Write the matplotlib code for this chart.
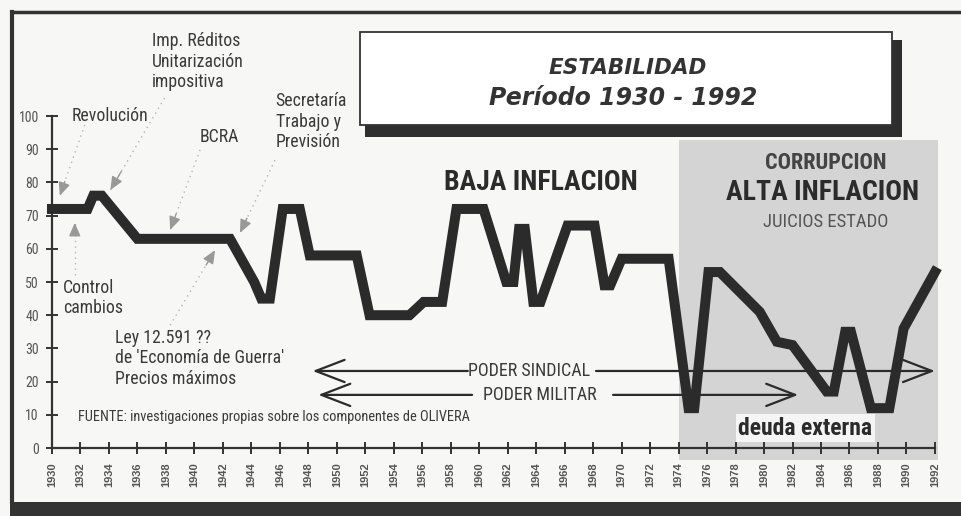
import matplotlib.pyplot as plt
from matplotlib import font_manager as fm
from matplotlib.patches import Rectangle
from matplotlib.lines import Line2D

# --- datos (estabilidad, 1930-1992) ---
years = [1930, 1932.5, 1932.9, 1933.5, 1936, 1942.5, 1944.2, 1944.7, 1945.3, 1946.2,
         1947.4, 1948.1, 1951.4, 1952.3, 1955.1, 1956.1, 1957.4, 1958.4, 1960.3, 1961.9,
         1962.4, 1962.8, 1963.2, 1963.8, 1964.3, 1966.2, 1968.1, 1968.8, 1969.2, 1970,
         1973.3, 1974.7, 1975.1, 1976.1, 1976.9, 1978.3, 1979.7, 1980.9, 1982, 1984.4,
         1984.9, 1985.7, 1986.1, 1987.5, 1988.8, 1989.8, 1992]
stability = [72, 72, 76, 76, 63, 63, 50, 45, 45, 72,
             72, 58, 58, 40, 40, 44, 44, 72, 72, 50,
             50, 66, 66, 44, 44, 67, 67, 49, 49, 57,
             57, 12, 12, 53, 53, 47, 41, 32, 31, 17,
             17, 35, 35, 12, 12, 36, 53]

x_ticks = list(range(1930, 1993, 2))
y_ticks = list(range(0, 101, 10))

# flechas de poder: (desde, hasta) en años, y nivel
union_span = [1948.3, 1992.0]
union_gap = [1959.2, 1968.2]
union_level = 23.2
military_span = [1948.7, 1982.4]
military_gap = [1959.5, 1969.4]
military_level = 16.0

# periodo sombreado
high_inflation = [1974, 1992.2]

# buscar una fuente angosta (tipo Helvetica Condensed)
fonts = fm.fontManager.ttflist
narrow = None
for name in ['Liberation Sans Narrow', 'Roboto Condensed', 'Open Sans Condensed', 'Noto Sans Condensed']:
    if any(f.name == name for f in fonts):
        narrow = dict(family=[name, 'DejaVu Sans'])
        break
if narrow is None:
    for name in ['Roboto', 'Noto Sans', 'DejaVu Sans', 'Open Sans']:
        hit = [f for f in fonts if f.name == name and 'condensed' in str(f.stretch)]
        if hit:
            narrow = dict(family=[name, 'DejaVu Sans'], fontstretch=hit[0].stretch)
            break
if narrow is None:
    narrow = dict(family=['Roboto', 'DejaVu Sans'])

INK = '#2b2b2b'
TEXT = '#3a3a3a'

fig = plt.figure(figsize=(9.62, 5.16), dpi=100, facecolor='#f7f7f5')
ax = fig.add_axes([0, 0, 1, 1])
ax.set_facecolor('none')
ax.set_xlim(1926.35, 1993.9)
ax.set_ylim(-20.48, 134.94)

# marco del recorte
fig.add_artist(Line2D([12 / 962, 1], [1 - 12 / 516] * 2, color='#333333', lw=2.5))
fig.add_artist(Line2D([12 / 962] * 2, [1 - 12 / 516, 14 / 516], color='#333333', lw=3))
fig.add_artist(Rectangle((10 / 962, 0), 1, 14 / 516, transform=fig.transFigure,
                         facecolor='#333333', edgecolor='none'))

# zona sombreada
ax.add_patch(Rectangle((high_inflation[0], -3.6), high_inflation[1] - high_inflation[0], 96.4,
                       facecolor='#d4d4d4', edgecolor='none', zorder=0))

# ejes
for s in ['top', 'right']:
    ax.spines[s].set_visible(False)
ax.spines['left'].set_position(('data', 1930))
ax.spines['left'].set_bounds(0, 100)
ax.spines['bottom'].set_position(('data', 0))
ax.spines['bottom'].set_bounds(1930, 1992)
for s in ['left', 'bottom']:
    ax.spines[s].set_linewidth(1.6)
    ax.spines[s].set_color('#333333')

ax.set_xticks(x_ticks)
ax.set_xticklabels([str(y) for y in x_ticks], rotation=90, fontsize=8, fontweight='bold',
                   color='#555555', family=['Liberation Sans', 'DejaVu Sans'])
ax.set_yticks(y_ticks)
ax.set_yticklabels([str(v) for v in y_ticks], fontsize=10, color='#555555', **narrow)
ax.tick_params(axis='x', direction='inout', length=9, width=1.4, color='#333333', pad=6)
ax.tick_params(axis='y', direction='inout', length=9, width=1.4, color='#333333', pad=5)

# serie principal
ax.plot(years, stability, color=INK, lw=7.2, solid_joinstyle='miter', zorder=3)

# caja de titulo con sombra
ax.add_patch(Rectangle((1951.98, 93.7), 37.7, 29.2, facecolor='#2e2e2e', edgecolor='none', zorder=4))
ax.add_patch(Rectangle((1951.63, 97.3), 37.36, 28.0, facecolor='white', edgecolor='#333333',
                       lw=1.3, zorder=5))
ax.text(1970.4, 114.6, 'ESTABILIDAD', ha='center', va='center', fontsize=15.5, fontweight='bold',
        style='italic', family='DejaVu Sans', color='#333333', zorder=6)
ax.text(1970.1, 105.5, 'Período 1930 - 1992', ha='center', va='center', fontsize=17,
        fontweight='bold', style='italic', family='DejaVu Sans', color='#333333', zorder=6)

# titulares
ax.text(1964.3, 80.1, 'BAJA INFLACION', ha='center', va='center', fontsize=20,
        fontweight='bold', color=INK, **narrow)
ax.text(1984.35, 85.8, 'CORRUPCION', ha='center', va='center', fontsize=16,
        fontweight='bold', color='#444444', zorder=2, **narrow)
ax.text(1984.1, 77.1, 'ALTA INFLACION', ha='center', va='center', fontsize=20,
        fontweight='bold', color=INK, zorder=2, **narrow)
ax.text(1984.3, 68.1, 'JUICIOS ESTADO', ha='center', va='center', fontsize=13.5,
        color='#555555', zorder=2, **narrow)
ax.text(1982.9, 6.0, 'deuda externa', ha='center', va='center', fontsize=17,
        fontweight='bold', color=INK, zorder=4,
        bbox=dict(boxstyle='square,pad=0.12', facecolor='#f5f5f5', edgecolor='none'), **narrow)

# notas de eventos
notes = [
    (1937.0, 116.3, 'Imp. Réditos\nUnitarización\nimpositiva'),
    (1931.4, 100.0, 'Revolución'),
    (1940.4, 93.7, 'BCRA'),
    (1945.7, 98.2, 'Secretaría\nTrabajo y\nPrevisión'),
    (1930.8, 45.2, 'Control\ncambios'),
    (1934.4, 27.1, "Ley 12.591 ??\nde 'Economía de Guerra'\nPrecios máximos"),
]
for x, y, t in notes:
    ax.text(x, y, t, ha='left', va='center', fontsize=12.8, color=TEXT,
            linespacing=1.18, **narrow)

ax.text(1931.8, 9.3, 'FUENTE: investigaciones propias sobre los componentes de OLIVERA',
        ha='left', va='center', fontsize=10.4, color=TEXT, **narrow)

# flechas punteadas grises de los eventos
pointers = [
    ((1932.3, 97.3), (1930.55, 76.0)),
    ((1937.9, 105.4), (1934.1, 77.7)),
    ((1940.4, 89.8), (1938.3, 65.7)),
    ((1945.66, 86.7), (1943.2, 64.8)),
    ((1931.6, 52.1), (1931.6, 67.8)),
    ((1938.3, 37.0), (1941.45, 59.6)),
]
for (x0, y0), (x1, y1) in pointers:
    ax.plot([x0, x1], [y0, y1], color='#b5b5b5', lw=1, ls=(0, (1, 3)), zorder=2)
    ax.annotate('', xy=(x1, y1), xytext=(x0 + (x1 - x0) * 0.8, y0 + (y1 - y0) * 0.8),
                arrowprops=dict(arrowstyle='-|>,head_length=0.8,head_width=0.35',
                                color='#999999', lw=1, shrinkA=0, shrinkB=0), zorder=2)

# poder sindical / militar
head = '->,head_length=1.3,head_width=0.5'
for span, gap, level, label in [(union_span, union_gap, union_level, 'PODER SINDICAL'),
                                (military_span, military_gap, military_level, 'PODER MILITAR')]:
    ax.annotate('', xy=(span[0], level), xytext=(gap[0], level),
                arrowprops=dict(arrowstyle=head, color=INK, lw=1.6, shrinkA=0, shrinkB=0,
                                mutation_scale=16), zorder=5)
    ax.annotate('', xy=(span[1], level), xytext=(gap[1], level),
                arrowprops=dict(arrowstyle=head, color=INK, lw=1.6, shrinkA=0, shrinkB=0,
                                mutation_scale=16), zorder=5)
    ax.text((gap[0] + gap[1]) / 2 - 0.2, level, label, ha='center', va='center', fontsize=13,
            color=TEXT, **narrow)

fig.savefig('out.png', dpi=100, facecolor=fig.get_facecolor())
